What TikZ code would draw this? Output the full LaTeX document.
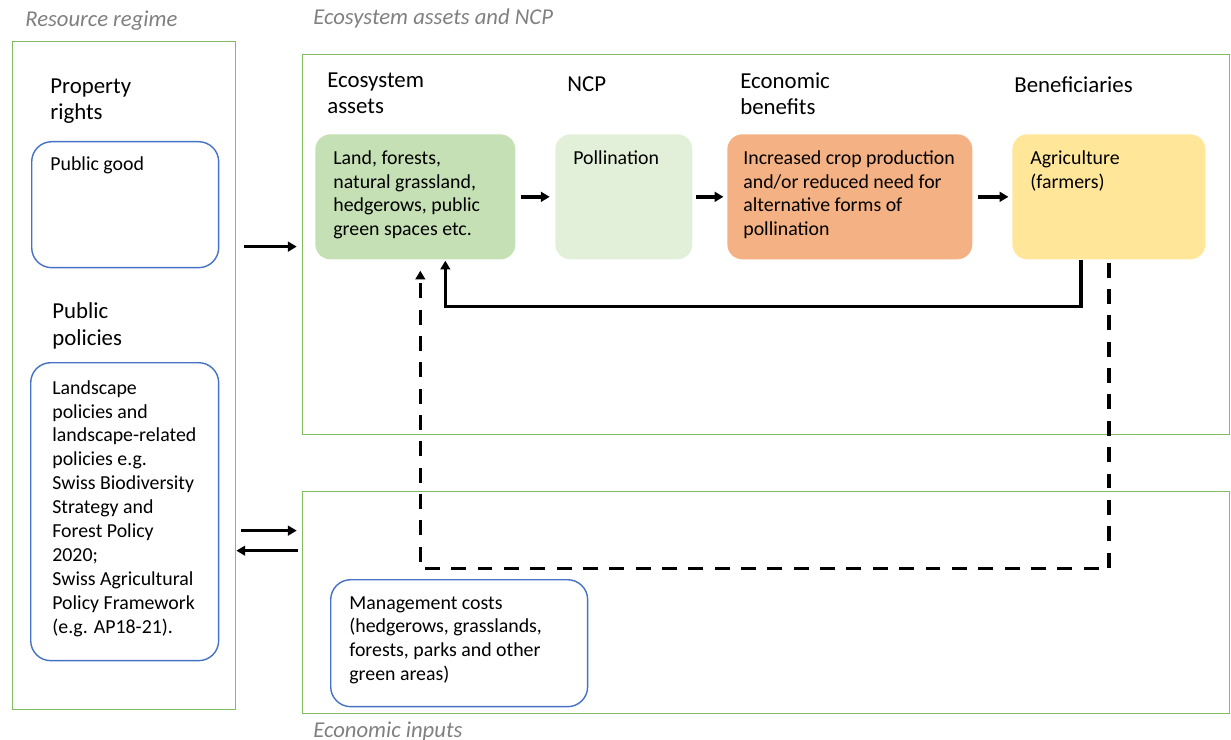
\documentclass[tikz,border=0pt]{standalone}
\usepackage{fontspec}
\setmainfont{Carlito}
\usetikzlibrary{arrows.meta, positioning, calc}
\usepackage{xcolor}
\definecolor{frameGreen}{HTML}{82BE5F}
\definecolor{boxBlue}{HTML}{4472C4}
\definecolor{titleGray}{HTML}{808080}
\definecolor{assetGreen}{HTML}{C5E0B4}
\definecolor{ncpGreen}{HTML}{E2F0D9}
\definecolor{benefitOrange}{HTML}{F4B183}
\definecolor{agriYellow}{HTML}{FFE699}

\begin{document}
\begin{tikzpicture}[x=0.02cm, y=-0.02cm, >={Triangle[length=5pt,width=5.5pt]},
        frame/.style={draw=frameGreen, line width=0.8pt, anchor=north west, inner sep=0pt},
        bluebox/.style={draw=boxBlue, line width=0.8pt, rounded corners=0.4cm, anchor=north west, inner sep=0pt},
        fillbox/.style={rounded corners=0.3cm, anchor=north west, inner sep=0pt, minimum height=2.5cm},
        txt/.style={font=\fontsize{11.3}{13.6}\selectfont, align=left, inner sep=0pt, anchor=north west},
        head/.style={font=\fontsize{13}{15.3}\selectfont, align=left, inner sep=0pt, anchor=north west},
        title/.style={font=\fontsize{12.9}{15}\selectfont\itshape, text=titleGray, inner sep=0pt, anchor=base west},
        arr/.style={->, line width=1.9pt}]
        \useasboundingbox (0,0) rectangle (1231,740);

        % frames
        \node[frame, minimum width=4.46cm, minimum height=13.36cm] (regime) at (12,41) {};
        \node[frame, minimum width=18.54cm, minimum height=7.6cm] (assets) at (302,54) {};
        \node[frame, minimum width=18.54cm, minimum height=4.44cm] (inputs) at (302,491) {};
        \node[title] at (25,27) {Resource regime};
        \node[title] at (313,25) {Ecosystem assets and NCP};
        \node[title] at (313,737) {Economic inputs};

        % resource regime
        \node[head] at (50,78) {Property\\rights};
        \node[bluebox, minimum width=3.74cm, minimum height=2.52cm] (good) at (31,141) {};
        \node[txt] at (50,156) {Public good};
        \node[head] at (52,302) {Public\\policies};
        \node[bluebox, minimum width=3.76cm, minimum height=5.96cm] (policies) at (30,362) {};
        \node[txt] at (52,380) {Landscape\\policies and\\landscape-related\\policies e.g.\\Swiss Biodiversity\\Strategy and\\Forest Policy\\2020;\\Swiss Agricultural\\Policy Framework\\(e.g. AP18-21).};

        % chain
        \node[head] at (327,72) {Ecosystem\\assets};
        \node[head] at (567,76) {NCP};
        \node[head] at (740,72) {Economic\\benefits};
        \node[head] at (1014,76) {Beneficiaries};
        \node[fillbox, fill=assetGreen, minimum width=4cm] (land) at (315,134) {};
        \node[fillbox, fill=ncpGreen, minimum width=2.74cm] (poll) at (555,134) {};
        \node[fillbox, fill=benefitOrange, minimum width=4.9cm] (benefit) at (727,134) {};
        \node[fillbox, fill=agriYellow, minimum width=3.86cm] (agri) at (1012,134) {};
        \node[txt] at (333,150) {Land, forests,\\natural grassland,\\hedgerows, public\\green spaces etc.};
        \node[txt] at (573,150) {Pollination};
        \node[txt] at (743,150) {Increased crop production\\and/or reduced need for\\alternative forms of\\pollination};
        \node[txt] at (1030,150) {Agriculture\\(farmers)};

        % economic inputs
        \node[bluebox, minimum width=5.14cm, minimum height=2.54cm] (costs) at (330,579) {};
        \node[txt] at (349,596) {Management costs\\(hedgerows, grasslands,\\forests, parks and other\\green areas)};

        % arrows
        \coordinate (r1) at ($(regime.east)+(8,-129)$);
        \draw[arr, shorten >=3pt] (r1) -- (r1 -| assets.west);
        \coordinate (r2) at ($(regime.east)+(5,155)$);
        \draw[arr, shorten >=3pt] (r2) -- (r2 -| inputs.west);
        \coordinate (r3) at ($(inputs.west)+(-4,-52)$);
        \draw[arr] (r3) -- (r3 -| regime.east);
        \draw[arr, shorten <=3pt, shorten >=3pt] (land.east) -- (poll.west);
        \draw[arr, shorten <=2pt, shorten >=2pt] (poll.east) -- (benefit.west);
        \draw[arr, shorten <=3pt, shorten >=2pt] (benefit.east) -- (agri.west);
        \draw[arr] (agri.south -| 1081,0) -- ++(0,47) -| ($(land.south)+(30,1)$);
        \draw[arr, dash pattern=on 8.5pt off 6.5pt] ($(agri.south)+(0,3)$) -- ++(0,306) -| ($(land.south)+(5,11)$);
    \end{tikzpicture}
\end{document}
